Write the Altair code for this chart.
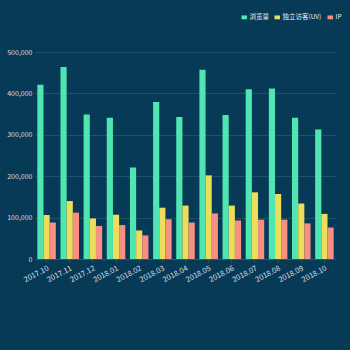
import altair as alt
import pandas as pd

months = ["2017.10", "2017.11", "2017.12", "2018.01", "2018.02", "2018.03", "2018.04",
          "2018.05", "2018.06", "2018.07", "2018.08", "2018.09", "2018.10"]
pv = [421000, 464000, 349000, 341000, 221000, 379000, 343000, 457000, 348000, 410000, 412000, 341000, 313000]
uv = [106000, 140000, 98000, 107000, 69000, 124000, 129000, 202000, 129000, 161000, 157000, 134000, 109000]
ip = [88000, 112000, 80000, 82000, 57000, 96000, 88000, 110000, 93000, 95000, 95000, 86000, 76000]
series = ["浏览量", "独立访客(UV)", "IP"]
colors = ["#4fe6b2", "#ecdd5a", "#f88f80"]

rows = []
for i, m in enumerate(months):
    for s, vals in zip(series, [pv, uv, ip]):
        rows.append({"month": m, "series": s, "value": vals[i]})
df = pd.DataFrame(rows)

font = "Noto Sans CJK SC"
bg = "#073a56"

chart = alt.Chart(df).mark_bar().encode(
    x=alt.X("month:N", sort=months, title=None,
            scale=alt.Scale(paddingInner=0.2, paddingOuter=0.1),
            axis=alt.Axis(labelAngle=-28, labelAlign="right", labelBaseline="top",
                          labelColor="#d8dde2", labelFont=font, labelFontSize=7.5,
                          labelPadding=2, domainColor="#2a5873", tickColor="#2a5873",
                          tickSize=3, grid=False)),
    xOffset=alt.XOffset("series:N", sort=series),
    y=alt.Y("value:Q", title=None,
            scale=alt.Scale(domain=[0, 500000], nice=False),
            axis=alt.Axis(values=[0, 100000, 200000, 300000, 400000, 500000], format=",d",
                          labelColor="#d8dde2", labelFont=font, labelFontSize=7,
                          labelPadding=3, domain=False, ticks=False,
                          gridColor="#1d5170", gridWidth=1)),
    color=alt.Color("series:N", sort=series,
                    scale=alt.Scale(domain=series, range=colors),
                    legend=alt.Legend(title=None, orient="none", direction="horizontal",
                                      legendX=206, legendY=-38,
                                      symbolType="M-1,-0.7H1V0.7H-1Z", symbolSize=30,
                                      symbolStrokeWidth=0,
                                      labelColor="#e8edf0", labelFont=font, labelFontSize=6.5,
                                      columnPadding=5, symbolOffset=0, labelOffset=2)),
).properties(
    width=301, height=207,
    autosize=alt.AutoSizeParams(type="none"),
    padding={"left": 35, "top": 52, "right": 14, "bottom": 91},
    background=bg,
).configure_view(stroke=None)

chart.save("out.html", embed_options={"renderer": "svg", "actions": False})
